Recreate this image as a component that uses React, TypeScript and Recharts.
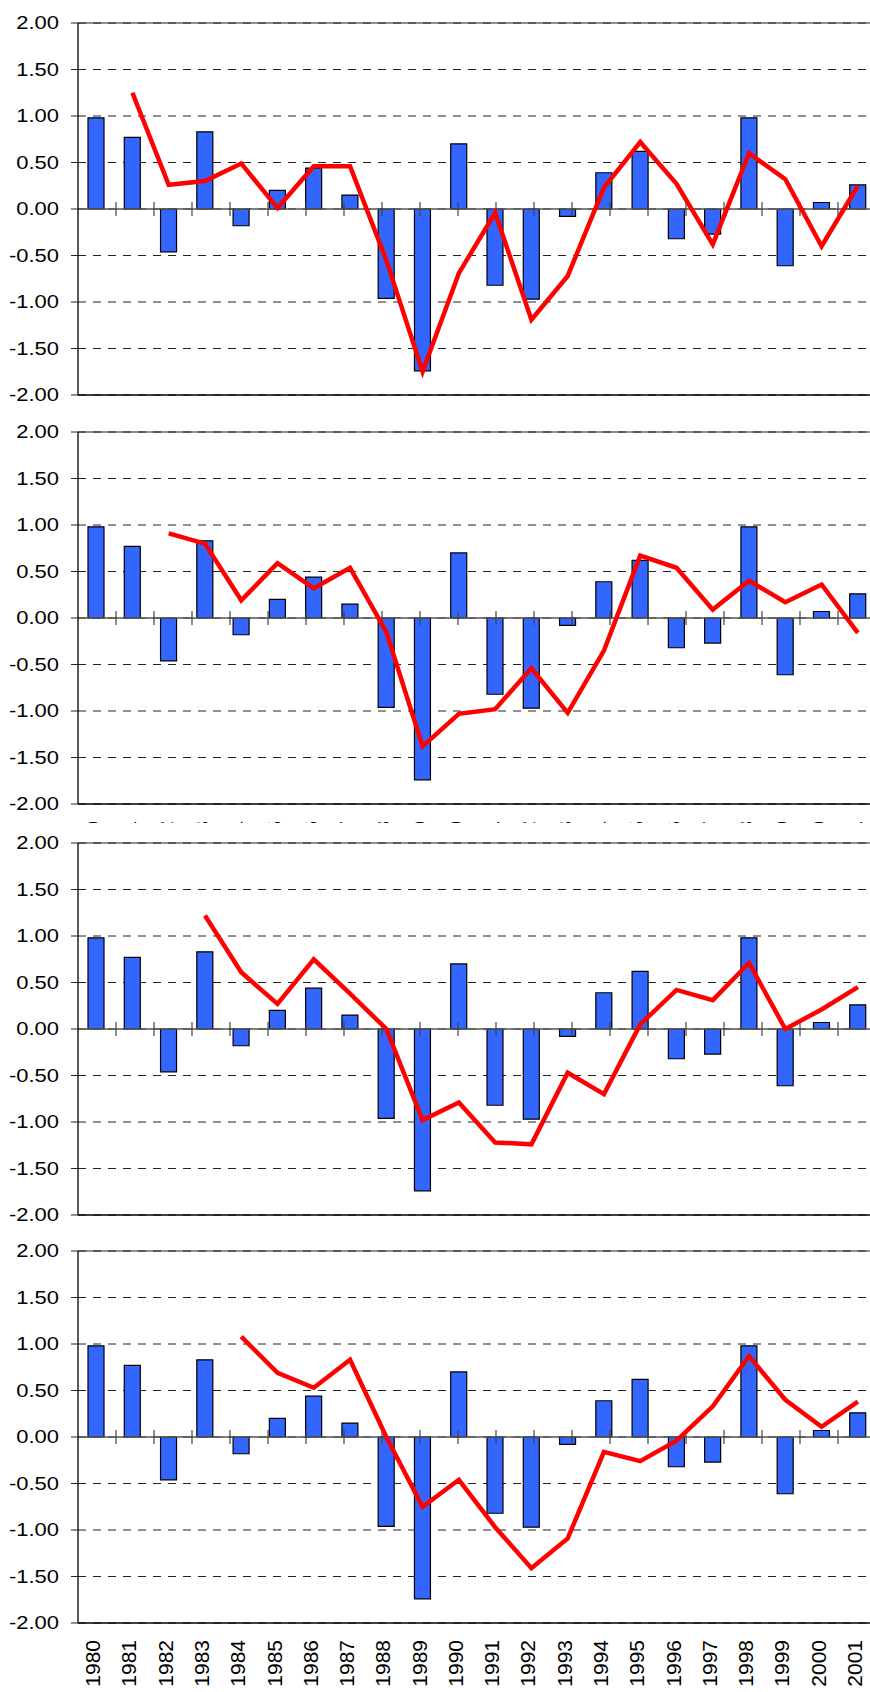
import React from "react";
import {
  ComposedChart,
  Bar,
  Line,
  XAxis,
  YAxis,
  CartesianGrid,
  ReferenceLine,
} from "recharts";

const years = [
  "1980", "1981", "1982", "1983", "1984", "1985", "1986", "1987", "1988", "1989", "1990",
  "1991", "1992", "1993", "1994", "1995", "1996", "1997", "1998", "1999", "2000", "2001",
];

const barValues = [
  0.98, 0.77, -0.46, 0.83, -0.18, 0.2, 0.44, 0.15, -0.96, -1.74, 0.7,
  -0.82, -0.97, -0.08, 0.39, 0.62, -0.32, -0.27, 0.98, -0.61, 0.07, 0.26,
];

const line1 = [
  null, 1.25, 0.26, 0.3, 0.49, 0.01, 0.46, 0.46, -0.55, -1.75, -0.69,
  -0.04, -1.19, -0.72, 0.23, 0.72, 0.27, -0.38, 0.6, 0.32, -0.4, 0.25,
];

const line2 = [
  null, null, 0.91, 0.8, 0.19, 0.59, 0.32, 0.54, -0.15, -1.38, -1.03,
  -0.98, -0.54, -1.02, -0.35, 0.67, 0.54, 0.09, 0.4, 0.17, 0.36, -0.16,
];

const line3 = [
  null, null, null, 1.22, 0.61, 0.27, 0.75, 0.38, 0.0, -0.98, -0.79,
  -1.22, -1.24, -0.47, -0.7, 0.05, 0.42, 0.31, 0.71, 0.0, 0.21, 0.45,
];

const line4 = [
  null, null, null, null, 1.08, 0.69, 0.53, 0.83, 0.0, -0.75, -0.46,
  -0.97, -1.41, -1.09, -0.16, -0.26, -0.04, 0.33, 0.87, 0.4, 0.11, 0.38,
];

const yTicks = [-2, -1.5, -1, -0.5, 0, 0.5, 1, 1.5, 2];

// boundaries between year categories, where the small cross ticks sit
const boundaries = years.slice(1).map((_, i) => i + 1);

const FONT = '"Liberation Sans", Arial, sans-serif';

const YTick = (props: any) => {
  const { y, payload } = props;
  return (
    <text
      transform={`translate(59, ${y}) scale(1.22, 1)`}
      textAnchor="end"
      dy="0.36em"
      fontSize={18}
      fontFamily={FONT}
      fill="#000"
    >
      {Number(payload.value).toFixed(2)}
    </text>
  );
};

const XTick = (props: any) => {
  const { x, y, payload } = props;
  return (
    <text
      transform={`translate(${x + 4}, ${y + 17}) rotate(-90)`}
      textAnchor="end"
      fontSize={21}
      fontFamily={FONT}
      fill="#000"
    >
      {payload.value}
    </text>
  );
};

type PanelProps = { line: (number | null)[]; top: number };

const Panel = ({ line, top }: PanelProps) => {
  const data = years.map((year, i) => ({ year, bar: barValues[i], line: line[i] }));
  return (
    <div
      style={{
        position: "absolute",
        left: 0,
        top,
        width: 870,
        height: 470,
        overflow: "hidden",
        background: "#fff",
      }}
    >
      <ComposedChart
        width={876}
        height={470}
        data={data}
        margin={{ top: 20, right: 0, bottom: 0, left: 0 }}
        accessibilityLayer={false}
      >
        <CartesianGrid vertical={false} stroke="#222" strokeDasharray="8 7" />
        <XAxis
          dataKey="year"
          interval={0}
          height={78}
          tickSize={0}
          tickMargin={0}
          tickLine={false}
          axisLine={{ stroke: "#000", strokeWidth: 1.3 }}
          tick={<XTick />}
        />
        <XAxis xAxisId="edge" type="number" domain={[0, years.length]} hide />
        <YAxis
          domain={[-2, 2]}
          ticks={yTicks}
          width={78}
          tickSize={7}
          tickLine={{ stroke: "#222" }}
          axisLine={{ stroke: "#000", strokeWidth: 1.3 }}
          tick={<YTick />}
          interval={0}
        />
        <ReferenceLine y={2} stroke="#222" strokeWidth={1.2} />
        <ReferenceLine y={0} stroke="#555" strokeWidth={1.3} />
        {boundaries.map((b) => (
          <ReferenceLine
            key={b}
            xAxisId="edge"
            segment={[
              { x: b, y: -0.075 },
              { x: b, y: 0.075 },
            ]}
            stroke="#444"
            strokeWidth={1.2}
          />
        ))}
        <Bar
          dataKey="bar"
          fill="#3366FF"
          stroke="#000"
          strokeWidth={1.2}
          barSize={16}
          isAnimationActive={false}
        />
        <Line
          type="linear"
          dataKey="line"
          stroke="#FF0000"
          strokeWidth={4.5}
          dot={false}
          activeDot={false}
          connectNulls={false}
          isAnimationActive={false}
        />
      </ComposedChart>
    </div>
  );
};

export default function App() {
  return (
    <div
      style={{
        position: "absolute",
        left: 0,
        top: 0,
        width: 870,
        height: 1692,
        overflow: "hidden",
        background: "#fff",
      }}
    >
      <Panel line={line1} top={3} />
      <Panel line={line2} top={412} />
      <Panel line={line3} top={823} />
      <Panel line={line4} top={1231} />
    </div>
  );
}
